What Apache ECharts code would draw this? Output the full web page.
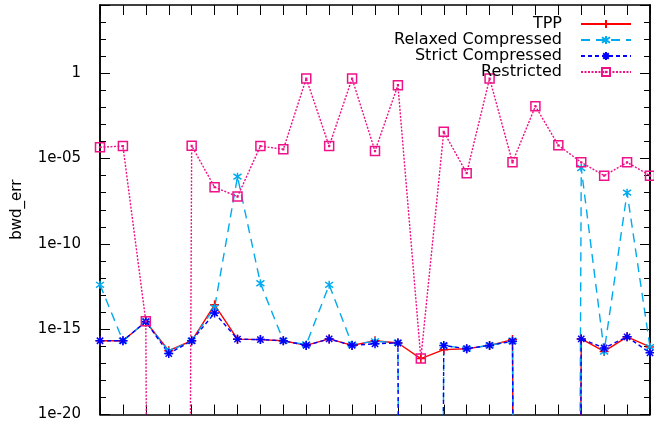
<!DOCTYPE html>
<html>
<head>
<meta charset="utf-8">
<script src="https://cdn.jsdelivr.net/npm/echarts@6/dist/echarts.min.js"></script>
<style>
  html, body { margin: 0; padding: 0; background: #ffffff; }
  #chart { width: 654px; height: 422px; }
</style>
</head>
<body>
<div id="chart"></div>
<script>
// Run indices along the x axis (no labels are printed for them)
const runs = ['1','2','3','4','5','6','7','8','9','10','11','12','13',
              '14','15','16','17','18','19','20','21','22','23','24','25'];

// Backward error per run; 0 means the error vanished (drawn far below the axis)
const tpp = [2.1e-16, 2.1e-16, 2.75e-15, 5.5e-17, 2.1e-16, 2.7e-14, 2.6e-16, 2.45e-16,
             2.1e-16, 1.12e-16, 2.7e-16, 1.12e-16, 2.1e-16, 1.55e-16, 1.9e-17, 6.3e-17,
             7.2e-17, 1.12e-16, 2.45e-16, 0, 0, 2.7e-16, 5.0e-17, 3.55e-16, 9.1e-17];

const relaxed = [4.0e-13, 2.1e-16, 2.75e-15, 5.0e-17, 2.1e-16, 1.8e-14, 8.7e-7, 4.9e-13,
                 2.1e-16, 1.26e-16, 4.0e-13, 1.26e-16, 1.95e-16, 1.6e-16, 0, 1.1e-16,
                 7.2e-17, 1.12e-16, 2.1e-16, 0, 0, 2.8e-6, 4.9e-17, 1.0e-7, 8.9e-17];

const strict = [2.1e-16, 2.1e-16, 2.75e-15, 3.7e-17, 2.1e-16, 8.9e-15, 2.6e-16, 2.45e-16,
                2.1e-16, 1.12e-16, 2.7e-16, 1.12e-16, 1.4e-16, 1.55e-16, 0, 1.1e-16,
                7.2e-17, 1.12e-16, 1.95e-16, 0, 0, 2.7e-16, 7.9e-17, 3.55e-16, 4.1e-17];

const restricted = [4.6e-5, 5.4e-5, 2.9e-15, 0, 5.6e-5, 2.1e-7, 5.9e-8, 5.4e-5,
                    3.5e-5, 0.49, 5.4e-5, 0.49, 2.75e-5, 0.2, 1.9e-17, 3.7e-4,
                    1.4e-6, 0.49, 6.0e-6, 1.17e-2, 6.0e-5, 6.0e-6, 1.0e-6, 6.0e-6, 1.0e-6];

// Printed labels of the major y ticks, bottom to top
const yTickLabels = ['1e-20', '1e-15', '1e-10', '1e-05', '1'];

// A log axis cannot place zero, so zeros go to a floor far below the plot
const FLOOR = 1e-300;
const onLogAxis = arr => arr.map(v => (v > 0 ? v : FLOOR));

const FONT = 'DejaVu Sans';
const AXIS_COLOR = '#000000';

const SYM_PLUS = 'path://M5,0L5,10M0,5L10,5';
const SYM_CROSS = 'path://M1.5,1.5L8.5,8.5M8.5,1.5L1.5,8.5M5,0L5,10';
const SYM_STAR = 'path://M5,0L5,10M0,5L10,5M1.5,1.5L8.5,8.5M8.5,1.5L1.5,8.5';
const SYM_BOX = 'path://M0,0L10,0L10,10L0,10Z M4.6,4.6L5.4,4.6L5.4,5.4L4.6,5.4Z';

function makeSeries(name, values, color, dash, symbol, size, fill) {
  return {
    name: name,
    type: 'line',
    xAxisIndex: 0,
    yAxisIndex: 0,
    data: onLogAxis(values),
    symbol: symbol,
    symbolSize: size,
    showSymbol: true,
    showAllSymbol: true,
    clip: true,
    lineStyle: { color: color, width: 1.4, type: dash },
    itemStyle: { color: fill, borderColor: color, borderWidth: 1.5 },
    emphasis: { disabled: true }
  };
}

function yAxisDef(position, interval, tickLen, withLabels) {
  return {
    type: 'log',
    logBase: 10,
    position: position,
    min: 1e-20,
    max: 1e4,
    interval: interval,
    name: withLabels && position === 'left' ? 'bwd_err' : '',
    nameLocation: 'middle',
    nameGap: 75,
    nameTextStyle: { fontFamily: FONT, fontSize: 15, color: '#000' },
    axisLine: { show: true, lineStyle: { color: AXIS_COLOR, width: 1.5 } },
    axisTick: { show: true, inside: true, length: tickLen, lineStyle: { color: AXIS_COLOR, width: 1 } },
    axisLabel: {
      show: withLabels && position === 'left',
      inside: false,
      margin: 19,
      fontFamily: FONT,
      fontSize: 15,
      color: '#000',
      formatter: (value, index) => (yTickLabels[index] !== undefined ? yTickLabels[index] : '')
    },
    splitLine: { show: false },
    minorTick: { show: false }
  };
}

function xAxisDef(position) {
  return {
    type: 'category',
    position: position,
    data: runs,
    boundaryGap: false,
    axisLine: { show: true, onZero: false, lineStyle: { color: AXIS_COLOR, width: 1.5 } },
    axisTick: { show: true, inside: true, length: 10, interval: 0, lineStyle: { color: AXIS_COLOR, width: 1 } },
    axisLabel: { show: false },
    splitLine: { show: false }
  };
}

const chart = echarts.init(document.getElementById('chart'), null, { renderer: 'canvas' });

chart.setOption({
  animation: false,
  backgroundColor: '#ffffff',
  textStyle: { fontFamily: FONT },
  grid: { left: 100, right: 4, top: 5, bottom: 7, containLabel: false },
  legend: {
    orient: 'vertical',
    right: 17,
    top: 11,
    align: 'right',
    itemWidth: 50,
    itemHeight: 10,
    itemGap: 0,
    textStyle: { fontFamily: FONT, fontSize: 16, lineHeight: 16, color: '#000', padding: [0, 14, 0, 0] },
    data: ['TPP', 'Relaxed Compressed', 'Strict Compressed', 'Restricted']
  },
  xAxis: [xAxisDef('bottom'), xAxisDef('top')],
  yAxis: [
    yAxisDef('left', 5, 10, true),
    yAxisDef('left', 1, 6, false),
    yAxisDef('right', 5, 10, false),
    yAxisDef('right', 1, 6, false)
  ],
  series: [
    makeSeries('TPP', tpp, '#ff0000', 'solid', SYM_PLUS, 9, '#ff0000'),
    makeSeries('Relaxed Compressed', relaxed, '#00aaee', [9, 6], SYM_CROSS, 8, '#00aaee'),
    makeSeries('Strict Compressed', strict, '#0000ff', [4, 3], SYM_STAR, 9, '#0000ff'),
    makeSeries('Restricted', restricted, '#ee1188', [2, 1.5], SYM_BOX, 9, 'rgba(0,0,0,0)')
  ]
});
</script>
</body>
</html>
